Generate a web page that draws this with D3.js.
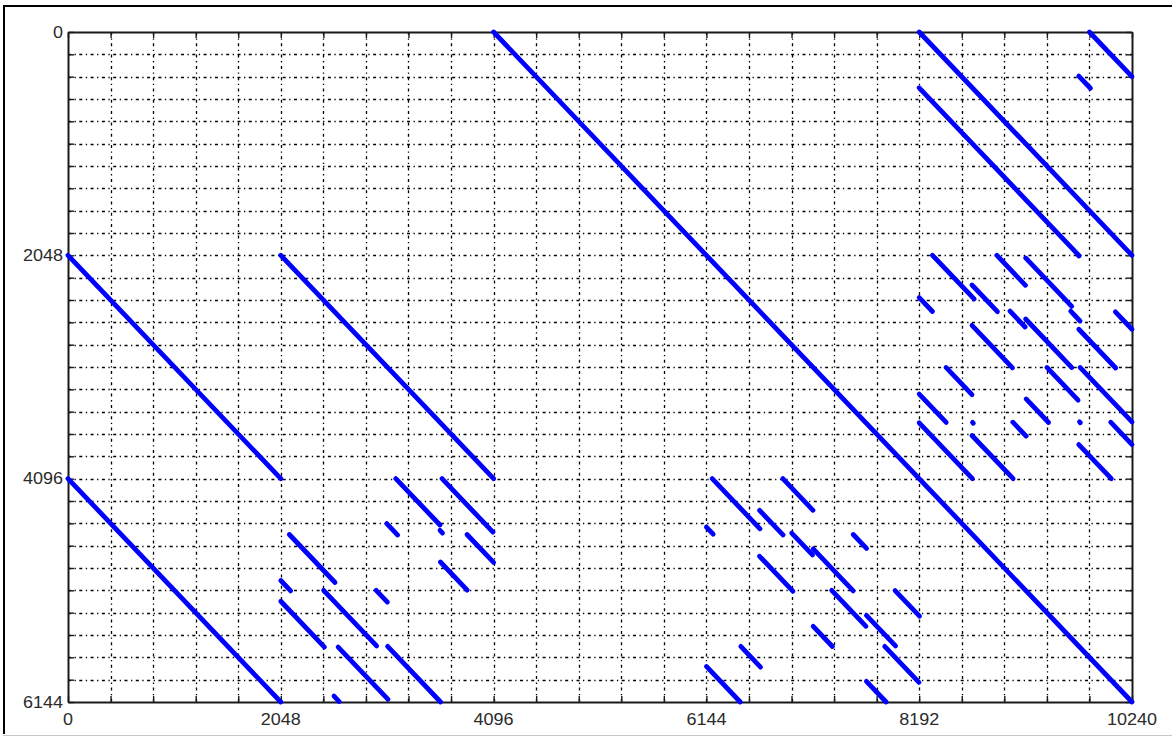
<!DOCTYPE html>
<html><head><meta charset="utf-8">
<script src="https://cdn.jsdelivr.net/npm/d3@7"></script>
<style>
body{margin:0;background:#fff;}
svg{display:block;font-family:"Liberation Sans",Arial,sans-serif;}
</style></head><body>
<svg id="chart" width="1172" height="736"></svg>
<script>
// ---- data ----
const xDomain = [0, 10240];
const yDomain = [0, 6144];
const xGridStep = 409.6;
const yGridStep = 204.8;
const xTickLabels = [0, 2048, 4096, 6144, 8192, 10240];
const yTickLabels = [0, 2048, 4096, 6144];

// segments: [startColumn, startRow, length]  (slope-1 diagonals)
const longDiagonals = [
  [4096, 0, 6144], [0, 2048, 2048], [0, 4096, 2048], [2048, 2048, 2048], [8192, 0, 2048]
];
const topRightBlock = [
  [9830, 0, 410], [8192, 512, 1536], [9728, 404, 112], [9716, 2040, 14]
];
const rightBlock = [
  [8320, 2048, 400], [8700, 2320, 245], [8192, 2435, 128], [8940, 2048, 275],
  [9216, 2072, 444], [9650, 2560, 90], [10080, 2566, 160], [9066, 2560, 145],
  [9216, 2632, 445], [8700, 2690, 390], [9728, 2726, 355], [8450, 3076, 250],
  [9421, 3076, 300], [9740, 3076, 500], [8192, 3320, 260], [8705, 3580, 8],
  [9221, 3365, 216], [9093, 3578, 128], [9735, 3575, 8], [10035, 3578, 205],
  [8192, 3584, 512], [8700, 3700, 396], [9728, 3783, 313]
];
const lowerLeftBlock = [
  [3155, 4096, 425], [3580, 4570, 25], [3600, 4096, 490], [3068, 4508, 105],
  [3840, 4608, 256], [3584, 4860, 258], [2130, 4608, 440], [2048, 5030, 95],
  [2048, 5220, 420], [2460, 5120, 510], [2966, 5120, 108], [2600, 5640, 480],
  [3076, 5634, 510], [2560, 6090, 50]
];
const lowerMidBlock = [
  [6200, 4096, 460], [6880, 4096, 290], [6144, 4540, 65], [6656, 4387, 225],
  [6965, 4595, 200], [7172, 4740, 385], [6656, 4808, 320], [7557, 4608, 128],
  [7350, 5120, 330], [7960, 5122, 235], [7684, 5350, 280], [7172, 5450, 185],
  [7860, 5634, 330], [6475, 5634, 190], [6144, 5818, 326], [7684, 5954, 190]
];

// ---- layout ----
const L = 68, R = 1132, T = 32, B = 702;
const svg = d3.select("#chart");
svg.append("rect").attr("width", 1172).attr("height", 736).attr("fill", "#fff");

// screenshot frame
svg.append("line").attr("x1", 3).attr("x2", 1172).attr("y1", 6).attr("y2", 6)
  .attr("stroke", "#000").attr("stroke-width", 2);
svg.append("line").attr("x1", 4).attr("x2", 4).attr("y1", 5).attr("y2", 734)
  .attr("stroke", "#000").attr("stroke-width", 2);
svg.append("line").attr("x1", 3).attr("x2", 1172).attr("y1", 735.5).attr("y2", 735.5)
  .attr("stroke", "#c8c8c8").attr("stroke-width", 1);

const x = d3.scaleLinear().domain(xDomain).range([L, R]);
const y = d3.scaleLinear().domain(yDomain).range([T, B]);

const xGrid = d3.range(0, xDomain[1] + 1, xGridStep);
const yGrid = d3.range(0, yDomain[1] + 1, yGridStep);

// grid lines
const grid = svg.append("g").attr("stroke", "#000").attr("stroke-width", 1.3)
  .attr("stroke-dasharray", "3,3.5,1.3,3.5");
grid.selectAll(".vg").data(xGrid.slice(1, -1)).join("line")
  .attr("x1", d => Math.round(x(d)) + 0.5).attr("x2", d => Math.round(x(d)) + 0.5)
  .attr("y1", T).attr("y2", B);
grid.selectAll(".hg").data(yGrid.slice(1, -1)).join("line")
  .attr("y1", d => Math.round(y(d)) + 0.5).attr("y2", d => Math.round(y(d)) + 0.5)
  .attr("x1", L).attr("x2", R);

// inward ticks on all sides
const tickLen = 6;
const axStyle = g => {
  g.select(".domain").attr("stroke", "#1a1a1a").attr("stroke-width", 2);
  g.selectAll(".tick line").attr("stroke", "#1a1a1a").attr("stroke-width", 1.4);
  g.selectAll(".tick text").remove();
};
svg.append("g").attr("transform", `translate(0,${B})`)
  .call(d3.axisBottom(x).tickValues(xGrid).tickSize(-tickLen).tickSizeOuter(0)).call(axStyle);
svg.append("g").attr("transform", `translate(0,${T})`)
  .call(d3.axisTop(x).tickValues(xGrid).tickSize(-tickLen).tickSizeOuter(0)).call(axStyle);
svg.append("g").attr("transform", `translate(${L},0)`)
  .call(d3.axisLeft(y).tickValues(yGrid).tickSize(-tickLen).tickSizeOuter(0)).call(axStyle);
svg.append("g").attr("transform", `translate(${R},0)`)
  .call(d3.axisRight(y).tickValues(yGrid).tickSize(-tickLen).tickSizeOuter(0)).call(axStyle);

// tick labels
const lab = svg.append("g").attr("fill", "#2b2b2b").attr("font-size", 16);
lab.selectAll(".xl").data(xTickLabels).join("text")
  .attr("x", d => x(d)).attr("y", 725).attr("text-anchor", "middle")
  .attr("textLength", d => String(d).length * 10).attr("lengthAdjust", "spacingAndGlyphs").text(d => d);
lab.selectAll(".yl").data(yTickLabels).join("text")
  .attr("x", 63).attr("y", d => y(d)).attr("dy", "0.36em").attr("text-anchor", "end")
  .attr("textLength", d => String(d).length * 10).attr("lengthAdjust", "spacingAndGlyphs").text(d => d);

// segments
const allSegs = [].concat(longDiagonals, topRightBlock, rightBlock, lowerLeftBlock, lowerMidBlock);
svg.append("g").attr("stroke", "#0000ff").attr("stroke-width", 4.8).attr("stroke-linecap", "round")
  .selectAll("line").data(allSegs).join("line")
  .attr("x1", d => x(d[0])).attr("y1", d => y(d[1]))
  .attr("x2", d => x(d[0] + d[2])).attr("y2", d => y(d[1] + d[2]));
</script>
</body></html>
